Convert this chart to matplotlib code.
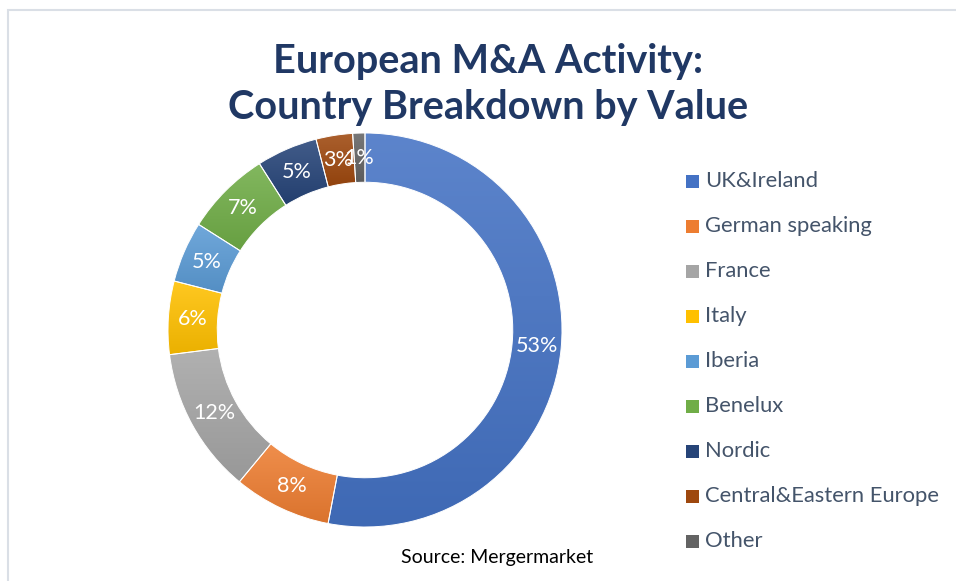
import numpy as np
import matplotlib
matplotlib.use("Agg")
import matplotlib.pyplot as plt
import matplotlib.colors as mcolors
from matplotlib.patches import Rectangle

# Data
regions = ["UK&Ireland", "German speaking", "France", "Italy", "Iberia",
           "Benelux", "Nordic", "Central&Eastern Europe", "Other"]
shares = [53, 8, 12, 6, 5, 7, 5, 3, 1]
colors = ["#4472C4", "#ED7D31", "#A5A5A5", "#FFC000", "#5B9BD5",
          "#70AD47", "#264478", "#9E480E", "#636363"]

title = "European M&A Activity:\nCountry Breakdown by Value"
source = "Source: Mergermarket"

plt.rcParams['font.family'] = ['Lato', 'DejaVu Sans']

W, H = 956, 581
fig = plt.figure(figsize=(W / 100, H / 100), dpi=100)

# light frame around the chart area
fig.patches.append(Rectangle((7.5 / W, -0.1), 1.2, (H - 9.5) / H + 0.1,
                             transform=fig.transFigure, fill=False,
                             edgecolor="#DADFE6", linewidth=1.5))

# donut axes: centre (365, 330) px, radius 197 px
cx, cy, r = 365, 330, 197
ax = fig.add_axes([(cx - r) / W, (H - cy - r) / H, 2 * r / W, 2 * r / H])

wedges, _, autotexts = ax.pie(
    shares, startangle=90, counterclock=False, radius=1,
    autopct='%.0f%%', pctdistance=0.875,
    wedgeprops=dict(width=0.25, edgecolor='white', linewidth=0.7),
    textprops=dict(color='white', fontsize=15.5))


def mix(c, other, t):
    c = np.array(mcolors.to_rgb(c))
    return (1 - t) * c + t * np.array(other)


# Excel-like vertical gradient inside each slice
for w, c in zip(wedges, colors):
    ext = w.get_path().get_extents()
    top = mix(c, (1, 1, 1), 0.13)
    bot = mix(c, (0, 0, 0), 0.08)
    t = np.linspace(0, 1, 200)[:, None, None]
    img = (1 - t) * top + t * bot
    im = ax.imshow(img, extent=[ext.x0, ext.x1, ext.y0, ext.y1],
                   origin='upper', aspect='auto', zorder=1)
    im.set_clip_path(w)
    w.set_facecolor('none')
    w.set_zorder(2)

for t in autotexts:
    t.set_zorder(3)

ax.set_xlim(-1, 1)
ax.set_ylim(-1, 1)
ax.set_aspect('equal')
ax.axis('off')

# title
fig.text(488 / W, 1 - 84 / H, title, ha='center', va='center',
         fontsize=28.5, fontweight='bold', color='#203864', linespacing=1.3)

# legend
for i, (name, c) in enumerate(zip(regions, colors)):
    y = 1 - (181 + 45 * i) / H
    fig.patches.append(Rectangle((686 / W, y - 6.5 / H), 13 / W, 13 / H,
                                 transform=fig.transFigure,
                                 facecolor=c, edgecolor='none'))
    fig.text(705 / W, y, name, ha='left', va='center',
             fontsize=15.8, color='#44546A')

fig.text(497 / W, 1 - 557 / H, source, ha='center', va='center',
         fontsize=14, color='black')

fig.savefig("out.png", dpi=100)
